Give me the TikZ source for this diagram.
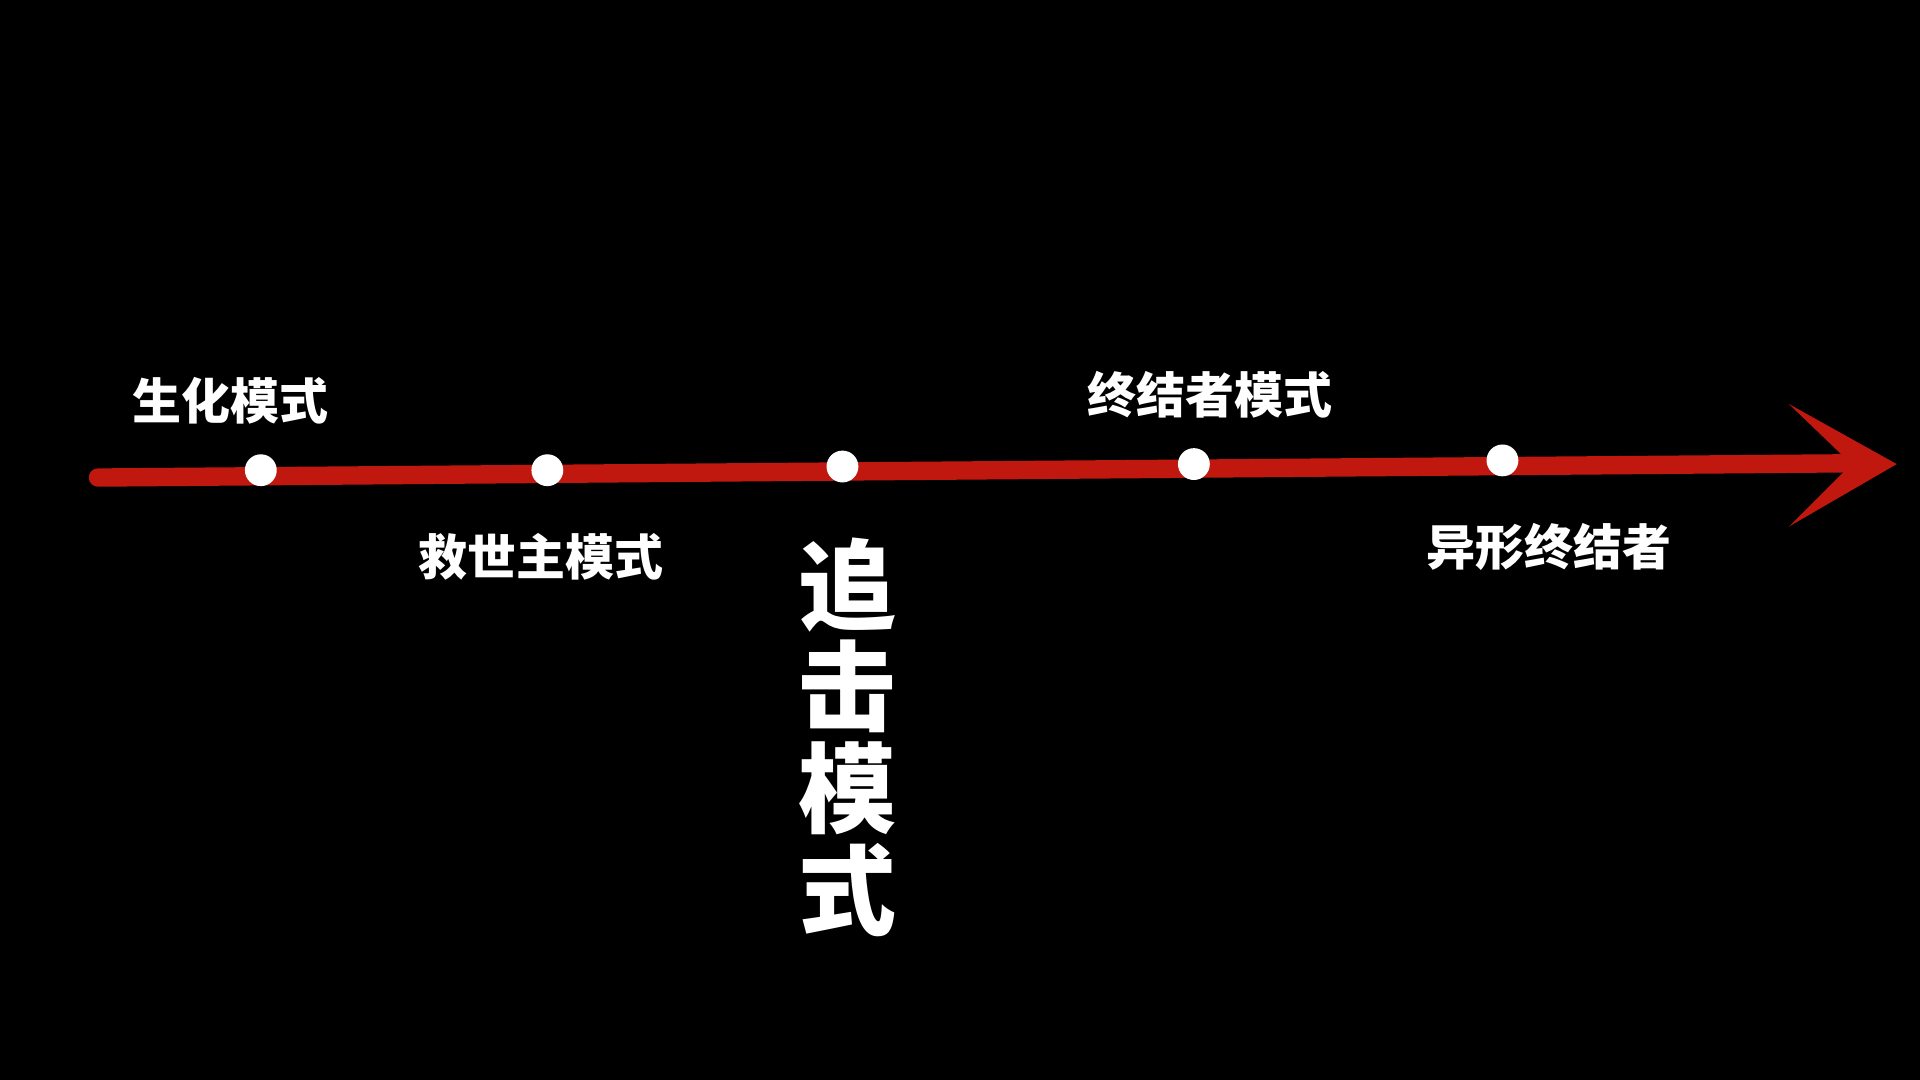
\documentclass[tikz,border=0pt]{standalone}
\usepackage{fontspec}
\newfontfamily\cjk{Noto Sans CJK SC}
\definecolor{tlred}{HTML}{C0180F}
\begin{document}
\begin{tikzpicture}[x=1pt,y=-1pt,
  dot/.style={circle,fill=white,inner sep=0pt,minimum size=26pt},
  lbl/.style={text=white,font=\cjk\bfseries\fontsize{40}{44}\selectfont,inner sep=0pt}]
\fill[black] (0,0) rectangle (1568,882);
\useasboundingbox (0,0) rectangle (1568,882);
\coordinate (s) at (80,390);
\coordinate (e) at (1530,378.2);
\draw[tlred,line width=15pt,line cap=round] (s) -- (e);
\fill[tlred] (1549,379) -- (1461,330) -- (1512,379) -- (1461,430) -- cycle;
\node[dot] (d1) at (213,384) {};
\node[dot] (d2) at (447,384) {};
\node[dot] (d3) at (688,381) {};
\node[dot] (d4) at (975,379) {};
\node[dot] (d5) at (1227,376) {};
\node[lbl] (l1) at (188,327) {生化模式};
\node[lbl] (l2) at (442,455) {救世主模式};
\node[lbl] (l4) at (988,322) {终结者模式};
\node[lbl] (l5) at (1265,447) {异形终结者};
\node[text=white,font=\cjk\bfseries\fontsize{80}{83}\selectfont,inner sep=0pt,align=center] (l3) at (692,602) {追\\击\\模\\式};
\end{tikzpicture}
\end{document}
